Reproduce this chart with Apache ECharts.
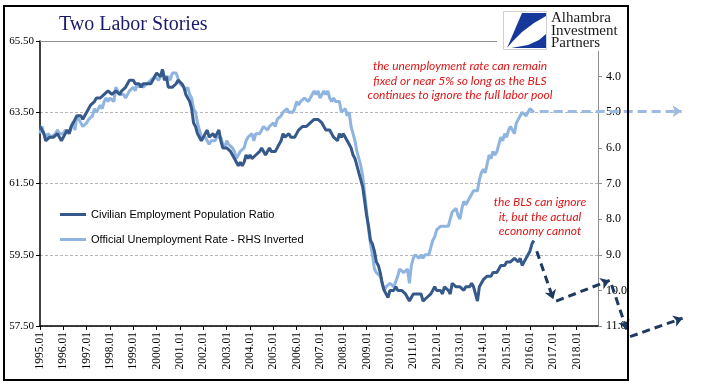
<!DOCTYPE html>
<html><head><meta charset="utf-8">
<script src="https://cdn.jsdelivr.net/npm/echarts@6/dist/echarts.min.js"></script>
<style>html,body{margin:0;padding:0;background:#fff}#c{width:705px;height:392px}</style>
</head><body><div id="c"></div>
<script>
// ---- categories (monthly, 1995.01 .. 2018.12) ----
const firstYear = 1995, lastYear = 2018;
const categories = [];
for (let y = firstYear; y <= lastYear; y++) for (let m = 1; m <= 12; m++) categories.push(y + '.' + (m < 10 ? '0' : '') + m);

// ---- Civilian Employment Population Ratio (left axis), 1995.01 .. 2016.03 ----
const epop = [
 63.1,63.0,62.9,62.7,62.7,62.8,62.8,62.8,62.8,62.9,62.8,62.7,
 62.8,62.9,63.0,62.9,63.1,63.2,63.3,63.4,63.4,63.4,63.3,63.4,
 63.5,63.6,63.7,63.7,63.8,63.9,63.9,63.9,63.9,64.0,64.0,64.1,
 64.1,64.0,64.0,64.1,64.1,64.0,64.1,64.1,64.2,64.3,64.4,64.4,
 64.4,64.3,64.3,64.3,64.2,64.3,64.3,64.3,64.3,64.3,64.4,64.5,
 64.6,64.6,64.5,64.7,64.4,64.5,64.2,64.2,64.2,64.2,64.3,64.4,
 64.4,64.3,64.2,64.0,63.9,63.8,63.6,63.2,63.1,62.9,62.8,62.7,
 62.7,62.9,63.0,62.8,62.8,62.9,62.8,62.9,63.0,62.7,62.5,62.5,
 62.5,62.5,62.4,62.3,62.2,62.2,62.0,62.1,62.0,62.1,62.3,62.2,
 62.3,62.2,62.2,62.3,62.3,62.4,62.5,62.4,62.3,62.3,62.5,62.4,
 62.4,62.4,62.5,62.6,62.7,62.9,62.8,62.8,62.9,62.8,62.8,62.8,
 62.9,63.0,63.0,63.1,63.1,63.1,63.1,63.2,63.2,63.3,63.3,63.3,
 63.3,63.2,63.1,63.0,63.0,63.0,62.9,62.8,62.8,62.7,62.9,62.8,
 62.9,62.8,62.7,62.6,62.5,62.3,62.2,62.0,61.8,61.6,61.4,61.0,
 60.6,60.3,59.9,59.8,59.6,59.3,59.2,59.0,58.7,58.5,58.5,58.3,
 58.5,58.5,58.5,58.6,58.5,58.5,58.5,58.5,58.4,58.3,58.2,58.3,
 58.4,58.4,58.4,58.4,58.4,58.2,58.2,58.3,58.3,58.4,58.5,58.6,
 58.5,58.5,58.5,58.4,58.6,58.6,58.5,58.4,58.7,58.7,58.6,58.6,
 58.6,58.6,58.5,58.6,58.6,58.6,58.7,58.6,58.6,58.2,58.6,58.6,
 58.8,58.8,58.9,58.9,58.9,59.0,59.0,59.0,59.0,59.2,59.2,59.2,
 59.3,59.3,59.3,59.3,59.4,59.4,59.3,59.4,59.2,59.3,59.4,59.5,
 59.6,59.8,59.9
];

// ---- Official Unemployment Rate (right axis, inverted), 1995.01 .. 2016.03 ----
const unrate = [
 5.6,5.4,5.4,5.8,5.6,5.6,5.7,5.7,5.6,5.5,5.6,5.6,
 5.6,5.5,5.5,5.6,5.6,5.3,5.5,5.1,5.2,5.2,5.4,5.4,
 5.3,5.2,5.2,5.1,4.9,5.0,4.9,4.8,4.9,4.7,4.6,4.7,
 4.6,4.6,4.7,4.3,4.4,4.5,4.5,4.5,4.6,4.5,4.4,4.4,
 4.3,4.4,4.2,4.3,4.2,4.3,4.3,4.2,4.2,4.1,4.1,4.0,
 4.0,4.1,4.0,3.8,4.0,4.0,4.0,4.1,3.9,3.9,3.9,3.9,
 4.2,4.2,4.3,4.4,4.3,4.5,4.6,4.9,5.0,5.3,5.5,5.7,
 5.7,5.7,5.7,5.9,5.8,5.8,5.8,5.7,5.7,5.7,5.9,6.0,
 5.8,5.9,5.9,6.0,6.1,6.3,6.2,6.1,6.1,6.0,5.8,5.7,
 5.7,5.6,5.8,5.6,5.6,5.6,5.5,5.4,5.4,5.5,5.4,5.4,
 5.3,5.4,5.2,5.2,5.1,5.0,5.0,4.9,5.0,5.0,5.0,4.9,
 4.7,4.8,4.7,4.7,4.6,4.6,4.7,4.7,4.5,4.4,4.5,4.4,
 4.6,4.5,4.4,4.5,4.4,4.6,4.7,4.6,4.7,4.7,4.7,5.0,
 5.0,4.9,5.1,5.0,5.4,5.6,5.8,6.1,6.1,6.5,6.8,7.3,
 7.8,8.3,8.7,9.0,9.4,9.5,9.5,9.6,9.8,10.0,9.9,9.9,
 9.8,9.8,9.9,9.9,9.6,9.4,9.4,9.5,9.5,9.4,9.8,9.3,
 9.1,9.0,9.0,9.1,9.0,9.1,9.0,9.0,9.0,8.8,8.6,8.5,
 8.3,8.3,8.2,8.2,8.2,8.2,8.2,8.0,7.8,7.8,7.7,7.9,
 8.0,7.7,7.5,7.6,7.5,7.5,7.3,7.2,7.2,7.2,6.9,6.7,
 6.6,6.7,6.7,6.2,6.3,6.1,6.2,6.1,5.9,5.7,5.8,5.6,
 5.7,5.5,5.4,5.4,5.6,5.3,5.2,5.1,5.0,5.0,5.1,5.0,
 4.9,4.9,5.0
];

// ---- annotation arrows: [monthIndex, value] pairs (month index 0 = 1995.01) ----
const darkArrows = [
 [[255.5, 59.6], [264.0, 58.25]],
 [[265.5, 58.2], [293.0, 58.78]],
 [[294.0, 58.65], [301.8, 57.40]],
 [[303.5, 57.2], [330.5, 57.72]]
];
const lightArrow = [
 [[257.0, 4.97], [330.0, 4.97]]
];

// ---- axis ranges / tick settings ----
const leftAxis = { min: 57.5, max: 65.5, interval: 2 };
const rightAxis = { min: 3, max: 11, interval: 1 };

const seriesNames = ['Civilian Employment Population Ratio', 'Official Unemployment Rate - RHS Inverted'];
const titleText = 'Two Labor Stories';
const note1 = ['the unemployment rate can remain', 'fixed or near 5% so long as the BLS', 'continues to ignore the full labor pool'];
const note2 = ['the BLS can ignore', 'it, but the actual', 'economy cannot'];
const logoLines = ['Alhambra', 'Investment', 'Partners'];

const DARK = '#35598a', LIGHT = '#8fb4e0', RED = '#dd1515';
const chart = echarts.init(document.getElementById('c'), null, { renderer: 'canvas' });

const serif = '"Liberation Serif", "Times New Roman", serif';
const noteFont = 'italic 12px Lato, "Open Sans", sans-serif';

chart.setOption({
  animation: false,
  backgroundColor: '#fff',
  grid: { left: 40, right: 107, top: 41, bottom: 66, containLabel: false },
  legend: {
    data: seriesNames.map(n => ({ name: n, icon: 'rect' })),
    orient: 'vertical', left: 55, top: 204, itemWidth: 26, itemHeight: 3, itemGap: 14,
    selectedMode: false,
    textStyle: { fontFamily: '"Liberation Sans", Arial, sans-serif', fontSize: 11, color: '#000' }
  },
  xAxis: [{
    type: 'category', data: categories, boundaryGap: false,
    axisLine: { show: true, lineStyle: { color: '#000', width: 1.5 } },
    axisTick: { show: true, interval: (i) => i % 12 === 0, length: 4, lineStyle: { color: '#000' } },
    axisLabel: { interval: (i) => i % 12 === 0, rotate: 90, margin: 6, fontFamily: serif, fontSize: 11.5, color: '#000', hideOverlap: false },
    splitLine: { show: false }
  }, {
    type: 'value', position: 'top', min: 0, max: categories.length - 1,
    axisLine: { show: true, onZero: false, lineStyle: { color: '#8c8c8c', width: 1 } },
    axisTick: { show: false }, axisLabel: { show: false }, splitLine: { show: false }
  }],
  yAxis: [{
    type: 'value', position: 'left', min: leftAxis.min, max: leftAxis.max, interval: leftAxis.interval,
    axisLine: { show: true, lineStyle: { color: '#000', width: 1.5 } },
    axisTick: { show: true, length: 4, lineStyle: { color: '#000' } },
    axisLabel: { formatter: v => v.toFixed(2), margin: 6, fontFamily: serif, fontSize: 11, color: '#000' },
    splitLine: { show: true, lineStyle: { color: '#b5b5b5', type: [3, 2], width: 1 } }
  }, {
    type: 'value', position: 'right', inverse: true, min: rightAxis.min, max: rightAxis.max, interval: rightAxis.interval,
    axisLine: { show: true, lineStyle: { color: '#8c8c8c', width: 1 } },
    axisTick: { show: true, length: 4, lineStyle: { color: '#8c8c8c' } },
    axisLabel: { formatter: v => v === rightAxis.min ? '' : v.toFixed(1), margin: 8, fontFamily: serif, fontSize: 12, color: '#000' },
    splitLine: { show: false }
  }],
  series: [{
    name: seriesNames[1], type: 'line', xAxisIndex: 0, yAxisIndex: 1, data: unrate,
    symbol: 'none', showSymbol: false, color: LIGHT,
    lineStyle: { color: LIGHT, width: 3 }, emphasis: { disabled: true }, z: 3
  }, {
    name: seriesNames[0], type: 'line', xAxisIndex: 0, yAxisIndex: 0, data: epop,
    symbol: 'none', showSymbol: false, color: DARK,
    lineStyle: { color: DARK, width: 3 }, emphasis: { disabled: true }, z: 4
  }, {
    name: 'lightArrow', type: 'lines', coordinateSystem: 'cartesian2d', xAxisIndex: 1, yAxisIndex: 1,
    clip: false, symbol: ['none', 'arrow'], symbolSize: 9,
    lineStyle: { color: '#9cbbe2', width: 3, type: [9, 5], opacity: 1, curveness: 0 },
    data: lightArrow.map(c => ({ coords: c })), z: 5
  }, {
    name: 'darkArrows', type: 'lines', coordinateSystem: 'cartesian2d', xAxisIndex: 1, yAxisIndex: 0,
    clip: false, symbol: ['none', 'arrow'], symbolSize: 9,
    lineStyle: { color: '#1f3a60', width: 3, type: [8, 5], opacity: 1, curveness: 0 },
    data: darkArrows.map(c => ({ coords: c })), z: 5
  }],
  graphic: [
    { type: 'rect', z: 100, silent: true, shape: { x: 4, y: 6, width: 624, height: 374 }, style: { fill: 'none', stroke: '#000', lineWidth: 2 } },
    { type: 'rect', z: 101, silent: true, shape: { x: 497, y: 8, width: 129, height: 43 }, style: { fill: '#fff' } },
    { type: 'rect', z: 102, silent: true, shape: { x: 503.5, y: 11.5, width: 43, height: 38 }, style: { fill: '#fff', stroke: '#d0d0d0', lineWidth: 1 } },
    { type: 'polygon', z: 103, silent: true, shape: { points: [[522,13],[546,13],[546,16],[534,23],[522,32],[513,41],[507,48]] }, style: { fill: '#16389a' } },
    { type: 'polygon', z: 103, silent: true, shape: { points: [[511,48],[546,48],[546,34],[539,40],[528,45]] }, style: { fill: '#16389a' } },
    { type: 'text', z: 103, silent: true, style: { x: 551, y: 12, text: logoLines.join('\n'), font: '15px ' + serif, lineHeight: 12.5, fill: '#1a1a1a', textVerticalAlign: 'top' } },
    { type: 'text', z: 103, silent: true, style: { x: 59, y: 25, text: titleText, font: '20px ' + serif, fill: '#1b1b6b', textVerticalAlign: 'middle' } },
    { type: 'text', z: 103, silent: true, style: { x: 460, y: 59, text: note1.join('\n'), font: noteFont, lineHeight: 14.5, fill: RED, textAlign: 'center', textVerticalAlign: 'top' } },
    { type: 'text', z: 103, silent: true, style: { x: 540, y: 195, text: note2.join('\n'), font: noteFont, lineHeight: 14.5, fill: RED, textAlign: 'center', textVerticalAlign: 'top' } }
  ]
});
</script></body></html>
